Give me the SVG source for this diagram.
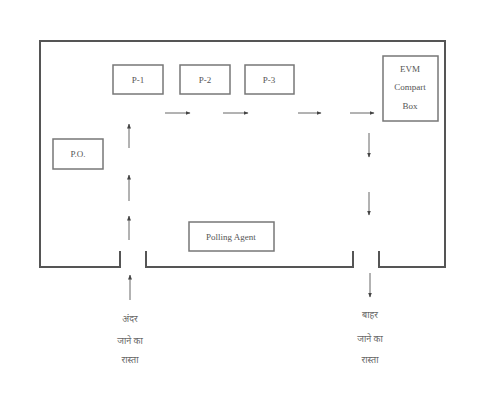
<svg xmlns="http://www.w3.org/2000/svg" width="479" height="400" viewBox="0 0 479 400">
<defs>
<marker id="ah" viewBox="0 0 10 10" refX="9" refY="5" markerWidth="5" markerHeight="5" orient="auto-start-reverse">
<path d="M0,1 L10,5 L0,9 z" fill="#444"/>
</marker>
<style>
.frame{fill:none;stroke:#555;stroke-width:2}
.box{fill:#fff;stroke:#777;stroke-width:1.5}
.lbl{font-family:"Liberation Serif","Noto Sans","DejaVu Sans",serif;font-size:9px;fill:#555;text-anchor:middle}
.hi{font-family:"Noto Sans Devanagari","Noto Sans","Lohit Devanagari","DejaVu Sans",sans-serif;font-size:9px;fill:#666;text-anchor:middle}
.arr{stroke:#666;stroke-width:1;fill:none;marker-end:url(#ah)}
</style>
</defs>
<rect width="479" height="400" fill="#fff"/>
<g id="room">
<path class="frame" d="M120,251 V267 H40 V41 H445 V267 H379 V251"/>
<path class="frame" d="M146,251 V267 H353 V251"/>
</g>
<g id="p1"><rect class="box" x="113" y="65" width="50" height="29"/><text class="lbl" x="138" y="83">P-1</text></g>
<g id="p2"><rect class="box" x="180" y="65" width="50" height="29"/><text class="lbl" x="205" y="83">P-2</text></g>
<g id="p3"><rect class="box" x="245" y="65" width="49" height="29"/><text class="lbl" x="269" y="83">P-3</text></g>
<g id="evm"><rect class="box" x="383" y="56" width="55" height="65"/>
<text class="lbl" x="410" y="72">EVM</text><text class="lbl" x="410" y="90">Compart</text><text class="lbl" x="410" y="109">Box</text></g>
<g id="po"><rect class="box" x="53" y="139" width="50" height="30"/><text class="lbl" x="78" y="157">P.O.</text></g>
<g id="agent"><rect class="box" x="189" y="222" width="85" height="29"/><text class="lbl" x="231" y="240">Polling Agent</text></g>
<g id="connectors">
<line class="arr" x1="165" y1="113" x2="190" y2="113"/>
<line class="arr" x1="223" y1="113" x2="248" y2="113"/>
<line class="arr" x1="298" y1="113" x2="321" y2="113"/>
<line class="arr" x1="350" y1="113" x2="374" y2="113"/>
<line class="arr" x1="129" y1="148" x2="129" y2="124"/>
<line class="arr" x1="129" y1="201" x2="129" y2="175"/>
<line class="arr" x1="129" y1="240" x2="129" y2="216"/>
<line class="arr" x1="130" y1="300" x2="130" y2="275"/>
<line class="arr" x1="369" y1="133" x2="369" y2="157"/>
<line class="arr" x1="369" y1="192" x2="369" y2="215"/>
<line class="arr" x1="370" y1="273" x2="370" y2="297"/>
</g>
<g id="entry-label">
<text class="hi" x="130" y="322">अंदर</text>
<text class="hi" x="130" y="344">जाने का</text>
<text class="hi" x="130" y="363">रास्ता</text>
</g>
<g id="exit-label">
<text class="hi" x="370" y="318">बाहर</text>
<text class="hi" x="370" y="342">जाने का</text>
<text class="hi" x="370" y="363">रास्ता</text>
</g>
</svg>
